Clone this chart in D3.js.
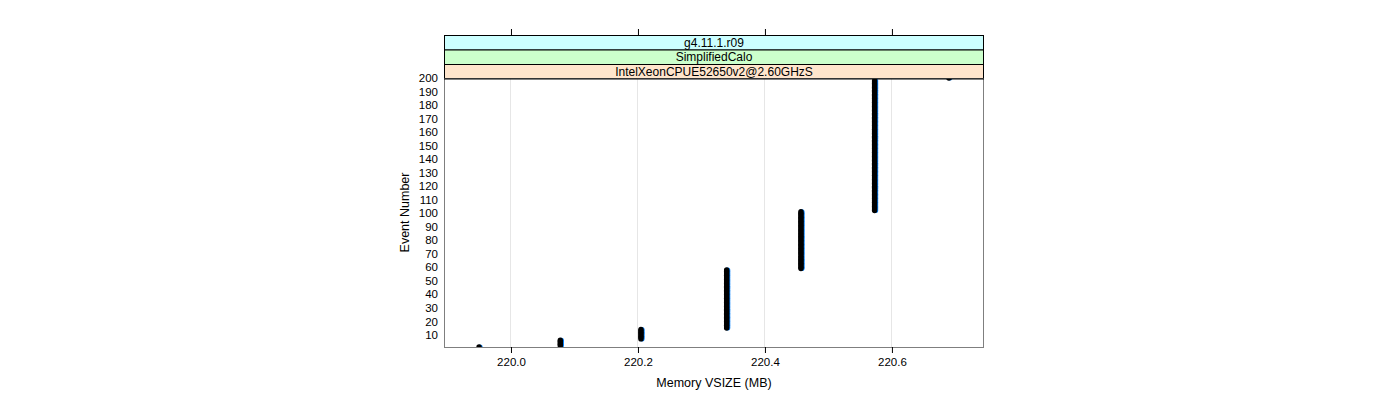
<!DOCTYPE html>
<html><head><meta charset="utf-8">
<script src="https://cdn.jsdelivr.net/npm/d3@7"></script>
<style>body{margin:0;background:#fff;} text{font-family:"Liberation Sans",Arial,sans-serif;}</style>
</head><body><svg id="c" width="1400" height="400"></svg>
<script>
// Data: memory VSIZE (MB) level and the event-number ranges at that level
const memLevels = [219.95, 220.078, 220.205, 220.34, 220.457, 220.573, 220.69];
const eventStart = [1, 2, 7, 15, 59, 102, 200];
const eventEnd   = [1, 6, 14, 58, 101, 198, 200];
const xTicks = [220.0, 220.2, 220.4, 220.6];
const yTicks = [10,20,30,40,50,60,70,80,90,100,110,120,130,140,150,160,170,180,190,200];
const strips = ["g4.11.1.r09", "SimplifiedCalo", "IntelXeonCPUE52650v2@2.60GHzS"];
const stripColors = ["#ccffff", "#ccffcc", "#ffe5cc"];

const points = [];
memLevels.forEach((m, i) => { for (let e = eventStart[i]; e <= eventEnd[i]; e++) points.push({x: m, y: e}); });

const svg = d3.select("#c");
const L = 444, R = 984, T = 78, B = 347;
const x = d3.scaleLinear().domain([219.8945, 220.745]).range([L, R]);
const y = d3.scaleLinear().domain([1, 200]).range([B, T]);

// grid
svg.append("g").selectAll("line").data(xTicks).join("line")
  .attr("x1", d => x(d)).attr("x2", d => x(d)).attr("y1", T).attr("y2", B)
  .attr("stroke", "#e6e6e6").attr("stroke-width", 1).attr("shape-rendering", "crispEdges");

// points (clipped to panel)
svg.append("clipPath").attr("id", "pc").append("rect").attr("x", L).attr("y", T).attr("width", R - L).attr("height", B - T);
const pg = svg.append("g").attr("clip-path", "url(#pc)");
pg.selectAll("circle.b").data(points).join("circle").attr("class", "b")
  .attr("cx", d => x(d.x) + 0.9).attr("cy", d => y(d.y)).attr("r", 2.5).attr("fill", "#0080ff");
pg.selectAll("circle.k").data(points).join("circle").attr("class", "k")
  .attr("cx", d => x(d.x) - 0.2).attr("cy", d => y(d.y)).attr("r", 2.7).attr("fill", "#000");

// panel border
svg.append("rect").attr("x", L + 0.5).attr("y", T + 0.5).attr("width", R - L - 1).attr("height", B - T)
  .attr("fill", "none").attr("stroke", "#7f7f7f").attr("stroke-width", 1);

// strips
const sh = 14.5, stripTop = 35;
strips.forEach((s, i) => {
  const yy = stripTop + i * sh;
  svg.append("rect").attr("x", L + 0.5).attr("y", yy + 0.5).attr("width", R - L - 1).attr("height", sh)
    .attr("fill", stripColors[i]).attr("stroke", "#000").attr("stroke-width", 1);
  svg.append("text").attr("x", (L + R) / 2).attr("y", yy + sh / 2 + 4.5).attr("text-anchor", "middle")
    .attr("font-size", 12).attr("fill", "#000").text(s);
});
svg.append("line").attr("x1", L).attr("x2", R).attr("y1", T + 0.5).attr("y2", T + 0.5).attr("stroke", "#333");

// bottom axis
const bx = svg.append("g").attr("transform", `translate(0,${B})`)
  .call(d3.axisBottom(x).tickValues(xTicks).tickFormat(d3.format(".1f")).tickSize(6).tickPadding(5));
bx.select(".domain").remove();
bx.selectAll("line").attr("stroke", "#000");
bx.selectAll("text").attr("font-size", 11.5).attr("font-family", "Liberation Sans, Arial, sans-serif");

// top axis ticks (no labels)
const tx = svg.append("g").attr("transform", `translate(0,${stripTop})`)
  .call(d3.axisTop(x).tickValues(xTicks).tickFormat("").tickSize(6));
tx.select(".domain").remove();
tx.selectAll("line").attr("stroke", "#000");

// left axis labels (no tick marks)
const ly = svg.append("g").attr("transform", `translate(${L},0)`)
  .call(d3.axisLeft(y).tickValues(yTicks).tickSize(0).tickPadding(6));
ly.select(".domain").remove();
ly.selectAll("text").attr("font-size", 11.5).attr("font-family", "Liberation Sans, Arial, sans-serif");

// axis titles
svg.append("text").attr("x", (L + R) / 2).attr("y", 387).attr("text-anchor", "middle")
  .attr("font-size", 12.5).text("Memory VSIZE (MB)");
svg.append("text").attr("transform", `translate(409,${(T + B) / 2}) rotate(-90)`).attr("text-anchor", "middle")
  .attr("font-size", 12.5).text("Event Number");
</script></body></html>
